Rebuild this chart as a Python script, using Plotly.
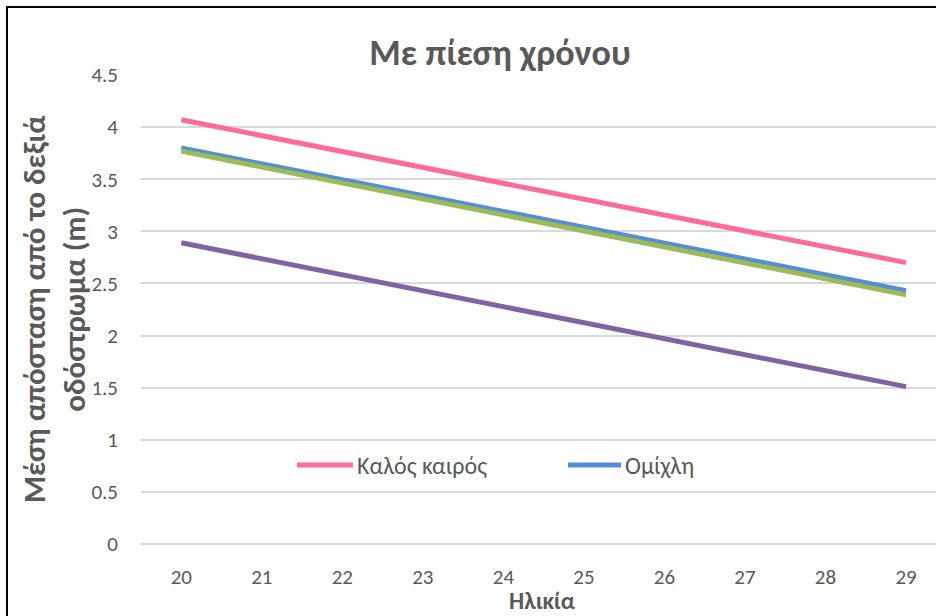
import plotly.graph_objects as go

# Age endpoints of each fitted line
ages = [20, 29]
kalos_kairos = [4.07, 2.70]
omixli = [3.80, 2.43]
green_series = [3.77, 2.39]
purple_series = [2.89, 1.51]

x_ticks = list(range(20, 30))
y_ticks = [0, 0.5, 1, 1.5, 2, 2.5, 3, 3.5, 4, 4.5]

FONT = "Calibri, Carlito, Lato, Roboto, sans-serif"
GREY = "#595959"

PINK = "#FF6A9E"
BLUE = "#558ED5"
GREEN = "#9BBB59"
PURPLE = "#8064A2"

fig = go.Figure()

# same order as the workbook: green ends up drawn over blue
for name, vals, color in [
    ("Καλός καιρός", kalos_kairos, PINK),
    ("Ομίχλη", omixli, BLUE),
    ("Σειρά 3", green_series, GREEN),
    ("Σειρά 4", purple_series, PURPLE),
]:
    fig.add_trace(
        go.Scatter(
            x=ages,
            y=vals,
            mode="lines",
            name=name,
            showlegend=False,
            line=dict(color=color, width=5),
        )
    )

# plot area in screen px: left 141, right 936, top 75, bottom 544
def px_x(px):
    return (px - 141) / 795


def px_y(py):
    return (544 - py) / 469


# legend drawn by hand so the line samples get Excel's long swatch
legend_items = [("Καλός καιρός", PINK, 297, 353, 355), ("Ομίχλη", BLUE, 568, 621, 623)]
shapes = []
annotations = []
for label, color, x0, x1, tx in legend_items:
    shapes.append(
        dict(
            type="line",
            xref="paper",
            yref="paper",
            x0=px_x(x0),
            x1=px_x(x1),
            y0=px_y(465),
            y1=px_y(465),
            line=dict(color=color, width=5),
        )
    )
    annotations.append(
        dict(
            text=label,
            xref="paper",
            yref="paper",
            x=px_x(tx),
            y=px_y(465),
            xanchor="left",
            yanchor="middle",
            showarrow=False,
            font=dict(size=24, color=GREY, family=FONT),
        )
    )

annotations += [
    dict(
        text="<b>Μέση απόσταση από το δεξιά<br>οδόστρωμα (m)</b>",
        xref="paper",
        yref="paper",
        x=px_x(54),
        y=px_y(309),
        xanchor="center",
        yanchor="middle",
        textangle=-90,
        showarrow=False,
        font=dict(size=31, color=GREY, family=FONT),
    ),
    dict(
        text="<b>Ηλικία</b>",
        xref="paper",
        yref="paper",
        x=px_x(542),
        y=px_y(600),
        xanchor="center",
        yanchor="middle",
        showarrow=False,
        font=dict(size=24, color=GREY, family=FONT),
    ),
]

# chart border
shapes.append(
    dict(
        type="rect",
        xref="paper",
        yref="paper",
        x0=px_x(7),
        y0=-0.3,
        x1=1.2,
        y1=px_y(7),
        line=dict(color="black", width=2),
        layer="above",
    )
)

fig.update_layout(
    width=936,
    height=616,
    margin=dict(l=141, r=0, t=75, b=72),
    paper_bgcolor="white",
    plot_bgcolor="white",
    font=dict(family=FONT, color=GREY, size=16),
    showlegend=False,
    title=dict(
        text="<b>Με πίεση χρόνου</b>",
        x=500 / 936,
        xanchor="center",
        y=1 - 52 / 616,
        yanchor="middle",
        font=dict(size=36, color=GREY, family=FONT),
    ),
    xaxis=dict(
        range=[19.5, 29.372],
        tickvals=x_ticks,
        showgrid=False,
        zeroline=False,
        showline=False,
        ticks="",
        ticklabelstandoff=18,
        tickfont=dict(size=21, color=GREY),
        fixedrange=True,
    ),
    yaxis=dict(
        range=[0, 4.5],
        tickvals=y_ticks,
        ticktext=[str(v) for v in y_ticks],
        showgrid=True,
        gridcolor="#D9D9D9",
        gridwidth=1.5,
        zeroline=True,
        zerolinecolor="#D9D9D9",
        zerolinewidth=1.5,
        showline=False,
        ticks="",
        ticklabelstandoff=22,
        tickfont=dict(size=21, color=GREY),
        fixedrange=True,
    ),
    annotations=annotations,
    shapes=shapes,
)

# drop the browser's default body margin so the chart sits at the page corner
fig.write_html(
    "out.html",
    config={"displayModeBar": False},
    post_script="document.body.style.margin='0px';",
)
